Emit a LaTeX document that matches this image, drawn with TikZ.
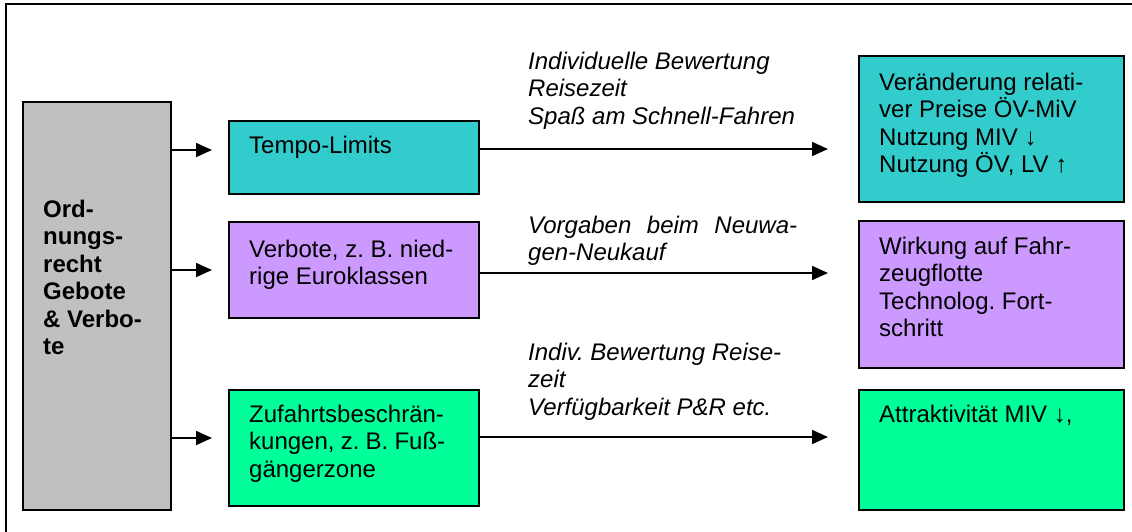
\documentclass[tikz,border=0pt]{standalone}
\usepackage{fontspec}
\setmainfont{Liberation Sans}
\usetikzlibrary{arrows.meta,calc}
\frenchspacing

\definecolor{boxgray}{HTML}{C0C0C0}
\definecolor{boxteal}{HTML}{33CCCC}
\definecolor{boxviolet}{HTML}{CC99FF}
\definecolor{boxgreen}{HTML}{00FF99}

\begin{document}
\begin{tikzpicture}[x=1pt,y=-1pt,
  box/.style={draw=black, line width=1.5pt, inner sep=0pt, anchor=north west},
  txt/.style={anchor=base west, inner sep=0pt, font=\fontsize{24}{27.5}\selectfont},
  lbl/.style={txt, font=\fontsize{24}{27.5}\selectfont\itshape},
  flow/.style={line width=1.6pt, -{Triangle[length=16pt,width=14pt]}}]

\useasboundingbox (0,0) rectangle (1132,531);

% outer frame, running off the right and bottom edges
\begin{scope}
  \clip (0,0) rectangle (1132,531);
  \draw[line width=1.5pt] (6,4) rectangle (1150,550);
\end{scope}

% boxes
\node[box, fill=boxgray,   minimum width=148pt, minimum height=408pt] (ord)     at (22,101)  {};
\node[box, fill=boxteal,   minimum width=250pt, minimum height=73pt]  (tempo)   at (228,120) {};
\node[box, fill=boxviolet, minimum width=250pt, minimum height=96pt]  (verbote) at (228,221) {};
\node[box, fill=boxgreen,  minimum width=250pt, minimum height=116pt] (zufahrt) at (228,389) {};
\node[box, fill=boxteal,   minimum width=265pt, minimum height=146pt] (preise)  at (858,55)  {};
\node[box, fill=boxviolet, minimum width=265pt, minimum height=147pt] (flotte)  at (858,220) {};
\node[box, fill=boxgreen,  minimum width=265pt, minimum height=120pt] (attrakt) at (858,389) {};

% box texts
\node[txt] (ordtxt) at ($(ord.north west)+(21,116)$)
  {\parbox[t]{140pt}{\bfseries Ord-\\nungs-\\recht\\Gebote\\\& Verbo-\\te}};
\node[txt] (tempotxt) at ($(tempo.north west)+(21,33)$)
  {\parbox[t]{220pt}{Tempo-Limits}};
\node[txt] (verbotetxt) at ($(verbote.north west)+(21,36)$)
  {\parbox[t]{220pt}{Verbote, z. B. nied-\\rige Euroklassen}};
\node[txt] (zufahrttxt) at ($(zufahrt.north west)+(21,33)$)
  {\parbox[t]{220pt}{Zufahrtsbeschrän-\\\makebox[196pt][s]{kungen, z. B. Fuß-}\\gängerzone}};
\node[txt] (preisetxt) at ($(preise.north west)+(21,35)$)
  {\parbox[t]{240pt}{Veränderung relati-\\ver Preise ÖV-MiV\\Nutzung MIV ↓\\Nutzung ÖV, LV ↑}};
\node[txt] (flottetxt) at ($(flotte.north west)+(21,34)$)
  {\parbox[t]{240pt}{Wirkung auf Fahr-\\zeugflotte\\Technolog. Fort-\\schritt}};
\node[txt] (attrakttxt) at ($(attrakt.north west)+(21,33)$)
  {\parbox[t]{240pt}{Attraktivität MIV ↓,}};

% arrow labels
\node[lbl] (lab1) at (528,69)
  {\parbox[t]{300pt}{Individuelle Bewertung\\Reisezeit\\Spaß am Schnell-Fahren}};
\node[lbl] (lab2) at (528,233)
  {\parbox[t]{300pt}{\makebox[269pt][s]{Vorgaben beim Neuwa-}\\gen-Neukauf}};
\node[lbl] (lab3) at (528,360)
  {\parbox[t]{300pt}{Indiv. Bewertung Reise-\\zeit\\Verfügbarkeit P\&R etc.}};

% arrow rows
\coordinate (r1) at (0,150);
\coordinate (r2) at (0,270);
\coordinate (r3) at (0,438);
\coordinate (s1) at (0,149);
\coordinate (s2) at (0,273);
\coordinate (s3) at (0,437);

\draw[flow, shorten >=16pt] (ord.east |- r1) -- (tempo.west |- r1);
\draw[flow, shorten >=16pt] (ord.east |- r2) -- (verbote.west |- r2);
\draw[flow, shorten >=16pt] (ord.east |- r3) -- (zufahrt.west |- r3);

\draw[flow, shorten >=30pt] (tempo.east |- s1)   -- (preise.west |- s1);
\draw[flow, shorten >=30pt] (verbote.east |- s2) -- (flotte.west |- s2);
\draw[flow, shorten >=30pt] (zufahrt.east |- s3) -- (attrakt.west |- s3);
\end{tikzpicture}
\end{document}
